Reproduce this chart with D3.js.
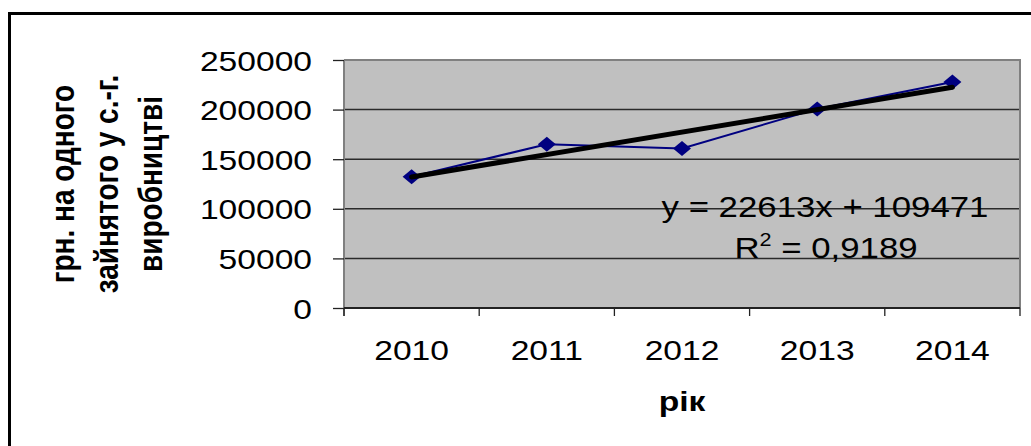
<!DOCTYPE html>
<html>
<head>
<meta charset="utf-8">
<script src="https://cdn.jsdelivr.net/npm/d3@7"></script>
<style>
    body { margin: 0; background: #fff; }
    text { font-family: 'Liberation Sans', Arial, sans-serif; }
</style>
</head>
<body>
<div class="canvas"></div>
<script>
// Data
const years = ['2010', '2011', '2012', '2013', '2014'];
const values = [132300, 165000, 160800, 200700, 227750];
const yTicks = [0, 50000, 100000, 150000, 200000, 250000];
const titleLines = ['грн. на одного', 'зайнятого у с.-г.', 'виробництві'];
const xTitle = 'рік';
const trend = { slope: 22613, intercept: 109471, r2: '0,9189' };

// Dimensions
const dims = { width: 1031, height: 446 };
const plot = { left: 344, right: 1020, top: 60, bottom: 308 };
const sx = 1.2; // text in the picture is stretched sideways

const svg = d3.select('.canvas')
    .append('svg')
    .attr('width', dims.width)
    .attr('height', dims.height);

// Outer frame (cut off at right and bottom)
svg.append('rect')
    .attr('x', 9.5).attr('y', 13.5)
    .attr('width', 1040).attr('height', 450)
    .attr('fill', 'none')
    .attr('stroke', '#000')
    .attr('stroke-width', 3);

// Scales
const x = d3.scaleBand().domain(years).range([plot.left, plot.right]).padding(0);
const y = d3.scaleLinear().domain([0, 250000]).range([plot.bottom, plot.top]);
const cx = d => x(d) + x.bandwidth() / 2;

// Plot area
svg.append('rect')
    .attr('x', plot.left).attr('y', plot.top)
    .attr('width', plot.right - plot.left).attr('height', plot.bottom - plot.top)
    .attr('fill', '#c0c0c0');

// Gridlines
svg.append('g')
    .selectAll('line')
    .data(yTicks.filter(t => t > 0 && t < 250000))
    .enter()
    .append('line')
        .attr('x1', plot.left).attr('x2', plot.right)
        .attr('y1', d => y(d)).attr('y2', d => y(d))
        .attr('stroke', '#2a2a2a')
        .attr('stroke-width', 1.5);

// Plot border (top and right)
svg.append('path')
    .attr('d', `M${plot.left},${plot.top}H${plot.right}V${plot.bottom}`)
    .attr('fill', 'none')
    .attr('stroke', '#808080')
    .attr('stroke-width', 2);

// Y axis
const yAxis = svg.append('g')
    .attr('transform', `translate(${plot.left},0)`)
    .call(d3.axisLeft(y).tickValues(yTicks).tickSize(11).tickFormat(d => d));
yAxis.select('.domain').attr('stroke', '#808080').attr('stroke-width', 2)
    .attr('d', `M0,${plot.top}V${plot.bottom + 8}`);
yAxis.selectAll('.tick line').attr('stroke', '#222').attr('stroke-width', 1.3);
yAxis.selectAll('.tick text')
    .attr('x', 0).attr('dy', null)
    .attr('transform', `translate(-32,10) scale(${sx},1)`)
    .attr('font-size', 28)
    .attr('fill', '#000')
    .attr('font-family', "'Liberation Sans', Arial, sans-serif");

// X axis: labels at centers, ticks at category boundaries
const xAxis = svg.append('g')
    .attr('transform', `translate(0,${plot.bottom})`)
    .call(d3.axisBottom(x).tickSize(0));
xAxis.select('.domain').attr('stroke', '#222').attr('stroke-width', 2)
    .attr('d', `M${plot.left},0H${plot.right}`);
xAxis.selectAll('.tick text')
    .attr('y', 0).attr('dy', null)
    .attr('transform', `translate(0,52) scale(${sx},1)`)
    .attr('font-size', 28)
    .attr('fill', '#000')
    .attr('font-family', "'Liberation Sans', Arial, sans-serif");

svg.append('g')
    .selectAll('line')
    .data(years.map(d => x(d)).concat([plot.right]))
    .enter()
    .append('line')
        .attr('x1', d => d).attr('x2', d => d)
        .attr('y1', plot.bottom).attr('y2', plot.bottom + 8)
        .attr('stroke', '#222')
        .attr('stroke-width', 1.3);

// Data line
const line = d3.line()
    .x((d, i) => cx(years[i]))
    .y(d => y(d));

svg.append('path')
    .datum(values)
    .attr('d', line)
    .attr('fill', 'none')
    .attr('stroke', '#000080')
    .attr('stroke-width', 2);

// Diamond markers
svg.append('g')
    .selectAll('path')
    .data(values)
    .enter()
    .append('path')
        .attr('d', 'M0,-7.5L9,0L0,7.5L-9,0Z')
        .attr('transform', (d, i) => `translate(${cx(years[i])},${y(d)})`)
        .attr('fill', '#000080');

// Trend line
const trendPts = [1, years.length].map(n => [cx(years[n - 1]), y(trend.slope * n + trend.intercept)]);
svg.append('path')
    .attr('d', d3.line()(trendPts))
    .attr('stroke', '#000')
    .attr('stroke-width', 5)
    .attr('stroke-linecap', 'round');

// Equation
const eq = svg.append('g').attr('font-size', 29).attr('fill', '#000');
eq.append('text')
    .attr('text-anchor', 'middle')
    .attr('transform', `translate(825,217) scale(${sx},1)`)
    .text(`y = ${trend.slope}x + ${trend.intercept}`);
const r2 = eq.append('text')
    .attr('text-anchor', 'middle')
    .attr('transform', `translate(826,258) scale(${sx},1)`);
r2.append('tspan').text('R');
r2.append('tspan').attr('font-size', 18).attr('dy', -12).text('2');
r2.append('tspan').attr('dy', 12).text(` = ${trend.r2}`);

// Y title
svg.append('g')
    .selectAll('text')
    .data(titleLines)
    .enter()
    .append('text')
        .attr('text-anchor', 'middle')
        .attr('font-weight', 'bold')
        .attr('font-size', 28)
        .attr('transform', (d, i) => `translate(${74 + i * 44},184) rotate(-90) scale(1,${sx})`)
        .text(d => d);

// X title
svg.append('text')
    .attr('text-anchor', 'middle')
    .attr('font-weight', 'bold')
    .attr('font-size', 28)
    .attr('transform', `translate(682,411) scale(${sx},1)`)
    .text(xTitle);
</script>
</body>
</html>
